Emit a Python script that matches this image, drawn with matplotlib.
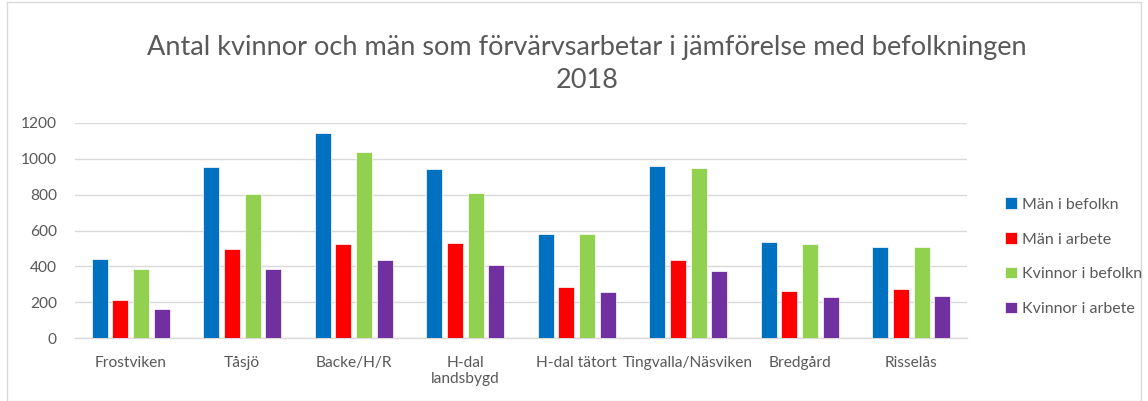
import matplotlib
matplotlib.use("Agg")
import matplotlib.pyplot as plt
import numpy as np
from matplotlib.patches import Rectangle

categories = ["Frostviken", "Tåsjö", "Backe/H/R", "H-dal\nlandsbygd", "H-dal tätort",
              "Tingvalla/Näsviken", "Bredgård", "Risselås"]
series_names = ["Män i befolkn", "Män i arbete", "Kvinnor i befolkn", "Kvinnor i arbete"]
man_befolkn = [441, 952, 1142, 941, 578, 962, 536, 510]
man_arbete = [212, 497, 525, 528, 283, 435, 260, 275]
kvinnor_befolkn = [387, 805, 1038, 809, 578, 950, 526, 508]
kvinnor_arbete = [160, 385, 433, 409, 255, 372, 231, 232]
colors = ["#0070C0", "#FF0000", "#92D050", "#7030A0"]
yticks = [0, 200, 400, 600, 800, 1000, 1200]

plt.rcParams['font.family'] = ['Lato', 'DejaVu Sans']
W, H = 1148, 401
fig = plt.figure(figsize=(W/100, H/100), dpi=100)
ax = fig.add_axes([75/W, 1-338/H, (967-75)/W, (338-123)/H])

x = np.arange(len(categories))
pitch = 0.186
width = 0.143
data = [man_befolkn, man_arbete, kvinnor_befolkn, kvinnor_arbete]
for i, (vals, c, name) in enumerate(zip(data, colors, series_names)):
    ax.bar(x + (i - 1.5) * pitch, vals, width, color=c, label=name,
           edgecolor="white", linewidth=0.5, zorder=3)

ax.set_xlim(-0.5, len(categories) - 0.5)
ax.set_ylim(0, 1200)
ax.set_yticks(yticks)
ax.set_xticks(x)
ax.set_xticklabels(categories)
ax.yaxis.grid(True, color="#D9D9D9", linewidth=1, zorder=0)
for s in ["top", "right", "left"]:
    ax.spines[s].set_visible(False)
ax.spines["bottom"].set_color("#D9D9D9")
ax.spines["bottom"].set_linewidth(1)
ax.tick_params(axis="both", length=0, labelsize=11.2, colors="#595959")
ax.tick_params(axis="y", pad=13)
ax.tick_params(axis="x", pad=13)

fig.text(587/W, 1-64/H, "Antal kvinnor och män som förvärvsarbetar i jämförelse med befolkningen\n2018",
         ha="center", va="center", fontsize=19.5, color="#595959", linespacing=1.45)

leg = fig.legend(loc="upper left", bbox_to_anchor=(991/W, 1-183/H), frameon=False,
                 fontsize=11.5, labelcolor="#595959", handlelength=0.7, handleheight=0.7,
                 handletextpad=0.35, labelspacing=1.3)

fig.patches.append(Rectangle((7/W, 0), 1 - 14/W, 1 - 2/H, transform=fig.transFigure,
                             fill=False, edgecolor="#D9D9D9", linewidth=1))

fig.savefig("out.png", dpi=100, facecolor="white")
